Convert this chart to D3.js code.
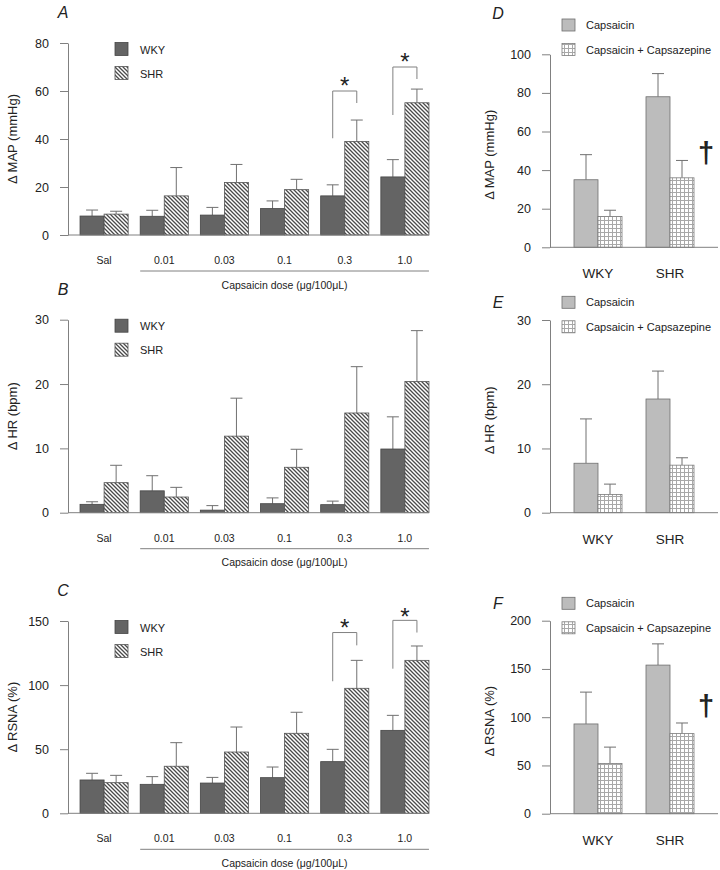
<!DOCTYPE html>
<html><head><meta charset="utf-8">
<script src="https://cdn.jsdelivr.net/npm/d3@7"></script>
<style>
body{margin:0;background:#fff}
svg{display:block}
text{font-family:"Liberation Sans",Arial,Helvetica,sans-serif;fill:#222}
</style>
</head><body>
<svg id="c" width="720" height="870"></svg>
<script>
// ---------- data ----------
const doses = ['Sal','0.01','0.03','0.1','0.3','1.0'];
const strains = ['WKY','SHR'];
const treatments = ['Capsaicin','Capsaicin + Capsazepine'];

const mapWKY = [7.9, 7.8, 8.3, 11.0, 16.3, 24.2];
const mapWKYsem = [2.5, 2.5, 3.2, 3.2, 4.6, 7.2];
const mapSHR = [8.7, 16.3, 21.9, 18.9, 39.0, 55.1];
const mapSHRsem = [1.2, 11.8, 7.5, 4.3, 8.9, 5.7];

const hrWKY = [1.3, 3.4, 0.4, 1.4, 1.25, 9.9];
const hrWKYsem = [0.4, 2.35, 0.7, 0.9, 0.55, 5.0];
const hrSHR = [4.67, 2.44, 11.9, 7.06, 15.5, 20.4];
const hrSHRsem = [2.7, 1.5, 5.9, 2.8, 7.2, 7.9];

const rsnaWKY = [26.0, 22.6, 23.6, 27.8, 40.3, 64.7];
const rsnaWKYsem = [5.2, 6.0, 4.4, 8.3, 9.6, 11.7];
const rsnaSHR = [23.9, 36.7, 47.8, 62.4, 97.5, 119.3];
const rsnaSHRsem = [5.7, 18.4, 19.5, 16.4, 21.8, 11.2];

// right panels: [WKY, SHR]
const dCaps = [35, 78], dCapsSem = [13, 12];
const dCapz = [16, 36], dCapzSem = [3.2, 9];
const eCaps = [7.7, 17.7], eCapsSem = [6.9, 4.35];
const eCapz = [2.85, 7.4], eCapzSem = [1.6, 1.15];
const fCaps = [93, 154], fCapsSem = [33, 22];
const fCapz = [52, 83], fCapzSem = [17, 11];

const ticksA = [0,20,40,60,80], ticksB = [0,10,20,30], ticksC = [0,50,100,150];
const ticksD = [0,20,40,60,80,100], ticksE = [0,10,20,30], ticksF = [0,50,100,150,200];

// significance brackets [dose, leftFrom, top, rightTo, starValue]
const sigA = [['0.3', 40.3, 60, 55, 64.5], ['1.0', 50, 70, 65, 74.5]];
const sigC = [['0.3', 103, 141, 131, 149], ['1.0', 112.8, 150.5, 141, 158]];
// daggers [strain, value]
const dagD = [['SHR', 47.8]];
const dagF = [['SHR', 109]];

// ---------- drawing ----------
const svg = d3.select('#c');
const FONT = '"Liberation Sans",Arial,Helvetica,sans-serif';
const AX = '#808080';

const defs = svg.append('defs');
const hatch = defs.append('pattern').attr('id','hatch').attr('patternUnits','userSpaceOnUse')
  .attr('width',4).attr('height',4);
hatch.append('rect').attr('width',4).attr('height',4).attr('fill','#fff');
hatch.append('path').attr('d','M0,0L4,4M-1,3L1,5M3,-1L5,1').attr('stroke','#4a4a4a').attr('stroke-width',1.3);
const grid = defs.append('pattern').attr('id','grid').attr('patternUnits','userSpaceOnUse')
  .attr('width',4).attr('height',4);
grid.append('rect').attr('width',4).attr('height',4).attr('fill','#fff');
grid.append('path').attr('d','M0,0.5H4M0.5,0V4').attr('stroke','#a8a8a8').attr('stroke-width',1);

function styleAxis(g, fs){
  g.select('.domain').attr('stroke',AX);
  g.selectAll('.tick line').attr('stroke',AX);
  g.selectAll('.tick text').attr('font-family',FONT).attr('font-size',fs).attr('fill','#222');
}

function errBar(g, cx, y, v, s){
  g.append('line').attr('x1',cx).attr('x2',cx).attr('y1',y(v)).attr('y2',y(v+s)).attr('stroke','#707070');
  g.append('line').attr('x1',cx-6).attr('x2',cx+6).attr('y1',y(v+s)).attr('y2',y(v+s)).attr('stroke','#707070');
}

function leftPanel(o){
  const g = svg.append('g');
  const x = d3.scaleBand().domain(doses).range([68,441]).paddingInner(0.2).paddingOuter(0.2);
  const xs = d3.scaleBand().domain(strains).range([0,x.bandwidth()]);
  const y = d3.scaleLinear().domain([0,o.max]).range([o.zero,o.top]);
  const xEnd = x(doses[doses.length-1]) + x.bandwidth();

  const fills = {WKY:'#646464', SHR:'url(#hatch)'};
  const strokes = {WKY:'#454545', SHR:'#555'};
  const series = {WKY:[o.wky,o.wkySem], SHR:[o.shr,o.shrSem]};

  doses.forEach((d,i)=>{
    strains.forEach(s=>{
      const v = series[s][0][i], e = series[s][1][i];
      const bx = x(d)+xs(s);
      errBar(g, bx+xs.bandwidth()/2, y, v, e);
      g.append('rect').attr('x',bx).attr('y',y(v)).attr('width',xs.bandwidth())
        .attr('height',y(0)-y(v)).attr('fill',fills[s]).attr('stroke',strokes[s]).attr('stroke-width',0.8);
    });
  });

  const ya = g.append('g').attr('transform','translate(68,0)')
    .call(d3.axisLeft(y).tickValues(o.ticks).tickSize(8).tickPadding(11).tickSizeOuter(0));
  styleAxis(ya, 12.5);
  g.append('line').attr('x1',68).attr('x2',xEnd).attr('y1',o.zero).attr('y2',o.zero).attr('stroke',AX);

  doses.forEach(d=>{
    g.append('text').attr('x',x(d)+x.bandwidth()/2).attr('y',o.zero+29)
      .attr('text-anchor','middle').attr('font-size',10.5).text(d);
  });
  const ux0 = x(doses[1]);
  g.append('line').attr('x1',ux0).attr('x2',xEnd).attr('y1',o.zero+36).attr('y2',o.zero+36).attr('stroke',AX);
  g.append('text').attr('x',(ux0+xEnd)/2).attr('y',o.zero+53.5).attr('text-anchor','middle')
    .attr('font-size',10.5).text('Capsaicin dose (\u03bcg/100\u03bcL)');

  g.append('text').attr('transform',`translate(17,${(o.top+o.zero)/2}) rotate(-90)`)
    .attr('text-anchor','middle').attr('font-size',13).text(o.title);
  g.append('text').attr('x',63).attr('y',o.top-25).attr('text-anchor','middle')
    .attr('font-size',16).attr('font-style','italic').text(o.letter);

  // legend
  strains.forEach((s,i)=>{
    const ly = o.top - 0.5 + i*24;
    g.append('rect').attr('x',115).attr('y',ly).attr('width',13).attr('height',13)
      .attr('fill',fills[s]).attr('stroke',strokes[s]).attr('stroke-width',0.8);
    g.append('text').attr('x',140).attr('y',ly+11).attr('font-size',11).text(s);
  });

  (o.sig||[]).forEach(([d,l0,top,r0,sv])=>{
    const xl = x(d)+xs('WKY')+xs.bandwidth()/2, xr = x(d)+xs('SHR')+xs.bandwidth()/2;
    g.append('path').attr('d',`M${xl},${y(l0)}V${y(top)}H${xr}V${y(r0)}`)
      .attr('fill','none').attr('stroke',AX);
    g.append('text').attr('x',(xl+xr)/2).attr('y',y(sv)+14).attr('text-anchor','middle')
      .attr('font-size',24).text('*');
  });
}

function rightPanel(o){
  const g = svg.append('g');
  const x = d3.scaleBand().domain(strains).range([550,718]).paddingInner(1/3).paddingOuter(1/3);
  const xs = d3.scaleBand().domain(treatments).range([0,x.bandwidth()]);
  const y = d3.scaleLinear().domain([0,o.max]).range([o.zero,o.top]);
  const fills = {'Capsaicin':'#bcbcbc','Capsaicin + Capsazepine':'url(#grid)'};
  const strokes = {'Capsaicin':'#6e6e6e','Capsaicin + Capsazepine':'#7a7a7a'};
  const series = {'Capsaicin':[o.caps,o.capsSem],'Capsaicin + Capsazepine':[o.capz,o.capzSem]};

  strains.forEach((s,i)=>{
    treatments.forEach(t=>{
      const v = series[t][0][i], e = series[t][1][i];
      const bx = x(s)+xs(t);
      errBar(g, bx+xs.bandwidth()/2, y, v, e);
      g.append('rect').attr('x',bx).attr('y',y(v)).attr('width',xs.bandwidth())
        .attr('height',y(0)-y(v)).attr('fill',fills[t]).attr('stroke',strokes[t]).attr('stroke-width',0.8);
    });
  });
  const ya = g.append('g').attr('transform','translate(550,0)')
    .call(d3.axisLeft(y).tickValues(o.ticks).tickSize(8).tickPadding(11).tickSizeOuter(0));
  styleAxis(ya, 12.5);
  g.append('line').attr('x1',550).attr('x2',718).attr('y1',o.zero).attr('y2',o.zero).attr('stroke',AX);

  strains.forEach(s=>{
    g.append('text').attr('x',x(s)+x.bandwidth()/2).attr('y',o.zero+31)
      .attr('text-anchor','middle').attr('font-size',13.5).text(s);
  });
  g.append('text').attr('transform',`translate(494,${(o.top+o.zero)/2+4}) rotate(-90)`)
    .attr('text-anchor','middle').attr('font-size',13).text(o.title);
  g.append('text').attr('x',498).attr('y',o.letterY).attr('text-anchor','middle')
    .attr('font-size',16).attr('font-style','italic').text(o.letter);

  treatments.forEach((t,i)=>{
    const cy = o.legY + i*24.5;
    g.append('rect').attr('x',562).attr('y',cy-6).attr('width',13).attr('height',12)
      .attr('fill',fills[t]).attr('stroke',strokes[t]).attr('stroke-width',0.8);
    g.append('text').attr('x',586).attr('y',cy+4).attr('font-size',11).text(t);
  });

  (o.dag||[]).forEach(([s,v])=>{
    g.append('text').attr('x',x(s)+x.bandwidth()+12).attr('y',y(v)+7.5)
      .attr('text-anchor','middle').attr('font-size',29).attr('font-weight','bold').text('\u2020');
  });
}

leftPanel({top:43, zero:235, max:80, ticks:ticksA, wky:mapWKY, wkySem:mapWKYsem, shr:mapSHR, shrSem:mapSHRsem,
  title:'\u0394 MAP (mmHg)', letter:'A', sig:sigA});
leftPanel({top:319.7, zero:512.7, max:30, ticks:ticksB, wky:hrWKY, wkySem:hrWKYsem, shr:hrSHR, shrSem:hrSHRsem,
  title:'\u0394 HR (bpm)', letter:'B'});
leftPanel({top:621, zero:813.3, max:150, ticks:ticksC, wky:rsnaWKY, wkySem:rsnaWKYsem, shr:rsnaSHR, shrSem:rsnaSHRsem,
  title:'\u0394 RSNA (%)', letter:'C', sig:sigC});

rightPanel({top:54.3, zero:247.3, max:100, ticks:ticksD, caps:dCaps, capsSem:dCapsSem, capz:dCapz, capzSem:dCapzSem,
  title:'\u0394 MAP (mmHg)', letter:'D', letterY:19, legY:25, dag:dagD});
rightPanel({top:320, zero:512.7, max:30, ticks:ticksE, caps:eCaps, capsSem:eCapsSem, capz:eCapz, capzSem:eCapzSem,
  title:'\u0394 HR (bpm)', letter:'E', letterY:307.5, legY:302.3});
rightPanel({top:620.7, zero:813.7, max:200, ticks:ticksF, caps:fCaps, capsSem:fCapsSem, capz:fCapz, capzSem:fCapzSem,
  title:'\u0394 RSNA (%)', letter:'F', letterY:609, legY:603.3, dag:dagF});
</script>
</body></html>
